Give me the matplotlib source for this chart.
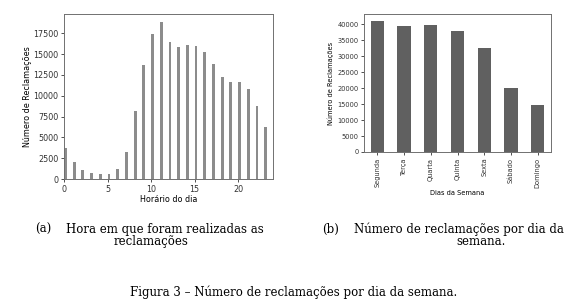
import matplotlib
matplotlib.use('Agg')
import matplotlib.pyplot as plt
import numpy as np

# reclamações por hora do dia
horas = list(range(24))
reclamacoes_hora = [3750, 2000, 1100, 700, 550, 600, 1250, 3300, 8150, 13650,
                    17450, 18800, 16400, 15900, 16050, 15950, 15200, 13850,
                    12300, 11700, 11700, 10800, 8750, 6300]

# reclamações por dia da semana
dias = ['Segunda', 'Terça', 'Quarta', 'Quinta', 'Sexta', 'Sábado', 'Domingo']
reclamacoes_dia = [41150, 39600, 39900, 37800, 32700, 19900, 14700]

fig = plt.figure(figsize=(5.73, 3.08), dpi=100)
spine_color = '#707070'

# (a) hora
ax1 = fig.add_axes([64 / 573, 1 - 179 / 308, 209 / 573, 165 / 308])
ax1.bar(horas, reclamacoes_hora, width=0.33, align='edge', color='#8c8c8c')
ax1.set_xlim(0, 24)
ax1.set_ylim(0, 19800)
ax1.set_xticks([0, 5, 10, 15, 20])
ax1.set_yticks(np.arange(0, 17501, 2500))
ax1.set_xlabel('Horário do dia', fontsize=5.8, labelpad=1)
ax1.set_ylabel('Número de Reclamações', fontsize=5.8, labelpad=1)
ax1.tick_params(labelsize=5.8, length=2.5, width=0.6, pad=1.5, colors='#333333')

# (b) dia da semana
ax2 = fig.add_axes([364 / 573, 1 - 152 / 308, 187 / 573, 138 / 308])
x = np.arange(len(dias))
ax2.bar(x, reclamacoes_dia, width=0.5, color='#606060')
ax2.set_xlim(-0.5, len(dias) - 0.5)
ax2.set_ylim(0, 43200)
ax2.set_xticks(x)
ax2.set_xticklabels(dias, rotation=90)
ax2.set_yticks(np.arange(0, 40001, 5000))
ax2.set_xlabel('Dias da Semana', fontsize=4.8, labelpad=2)
ax2.set_ylabel('Número de Reclamações', fontsize=4.8, labelpad=2)
ax2.tick_params(labelsize=4.8, length=2.5, width=0.6, pad=1.5, colors='#333333')

for ax in (ax1, ax2):
    for s in ax.spines.values():
        s.set_color(spine_color)
        s.set_linewidth(0.7)

# legendas
serif = 'DejaVu Serif'
fs = 8.5
fig.text(35 / 573, 1 - 229 / 308, '(a)', fontsize=fs, family=serif, va='center')
fig.text(66 / 573, 1 - 229 / 308, 'Hora em que foram realizadas as', fontsize=fs,
         family=serif, va='center')
fig.text(151 / 573, 1 - 241.5 / 308, 'reclamações', fontsize=fs, family=serif,
         va='center', ha='center')
fig.text(322 / 573, 1 - 229 / 308, '(b)', fontsize=fs, family=serif, va='center')
fig.text(354 / 573, 1 - 229 / 308, 'Número de reclamações por dia da', fontsize=fs,
         family=serif, va='center')
fig.text(481 / 573, 1 - 241.5 / 308, 'semana.', fontsize=fs, family=serif,
         va='center', ha='center')
fig.text(294 / 573, 1 - 292 / 308, 'Figura 3 – Número de reclamações por dia da semana.',
         fontsize=fs, family=serif, va='center', ha='center')

plt.savefig('out.png', dpi=100)
